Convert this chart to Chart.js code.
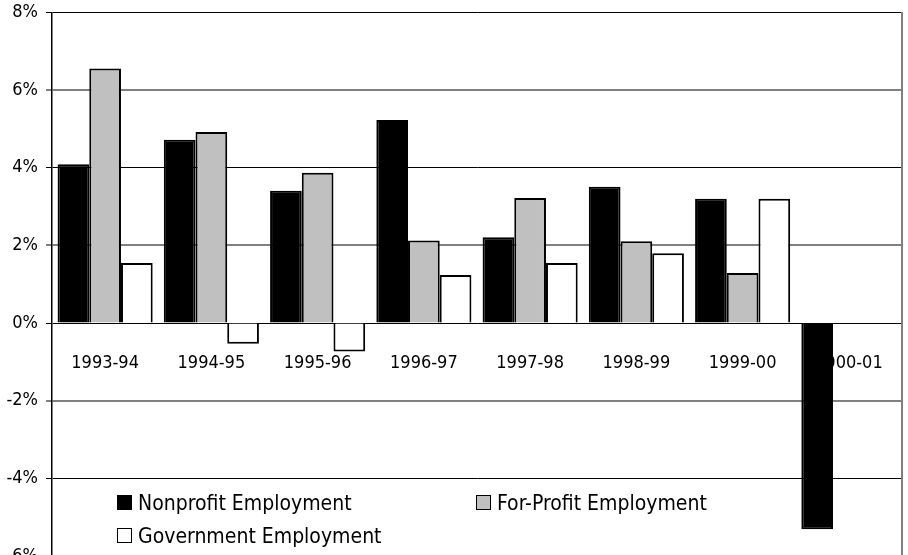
<!DOCTYPE html>
<html>
<head>
    <title>Employment Growth by Sector</title>
    <script src="https://cdn.jsdelivr.net/npm/chart.js"></script>
    <style>
        body { margin: 0; overflow: hidden; background: #fff; }
        #wrap { position: relative; width: 908px; height: 575px; }
        .legend-item { position: absolute; font: 21px 'DejaVu Sans Condensed', 'DejaVu Sans', sans-serif; font-stretch: condensed; color: #000; white-space: nowrap; line-height: 24px; }
        .legend-item span.box { position: absolute; left: 0; top: 4px; width: 13px; height: 13px; border: 1px solid #000; }
        .legend-item span.txt { position: absolute; left: 21px; top: 0; }
    </style>
</head>
<body>
    <div id="wrap">
        <canvas id="growth-chart"></canvas>
        <div id="legend"></div>
    </div>

    <script>
        // chart data
        const years = ['1993-94', '1994-95', '1995-96', '1996-97', '1997-98', '1998-99', '1999-00', '2000-01'];
        const nonprofit = [4.09, 4.72, 3.41, 5.23, 2.21, 3.51, 3.20, -5.31];
        const forProfit = [6.56, 4.92, 3.87, 2.13, 3.22, 2.11, 1.29, null];
        const government = [1.55, -0.53, -0.73, 1.24, 1.55, 1.80, 3.20, null];
        const seriesNames = ['Nonprofit Employment', 'For-Profit Employment', 'Government Employment'];
        const seriesColors = ['#000000', '#c0c0c0', '#ffffff'];

        const fontFamily = "'DejaVu Sans Condensed', 'DejaVu Sans', sans-serif";

        const ctx = document.getElementById('growth-chart').getContext('2d');
        new Chart(ctx, {
            type: 'bar',
            data: {
                labels: years,
                datasets: [nonprofit, forProfit, government].map((vals, i) => ({
                    label: seriesNames[i],
                    data: vals,
                    backgroundColor: seriesColors[i],
                    borderColor: '#000000',
                    borderWidth: 2,
                    categoryPercentage: 0.895,
                    barPercentage: 1.0
                }))
            },
            options: {
                responsive: true,
                maintainAspectRatio: false,
                animation: false,
                layout: { padding: { top: 12.5, right: 6, bottom: 19, left: 0 } },
                plugins: {
                    legend: { display: false },
                    tooltip: { enabled: false }
                },
                scales: {
                    x: {
                        position: { y: 0 },
                        offset: true,
                        afterFit: s => { s.paddingLeft = 0; s.paddingRight = 0; },
                        grid: { display: false, drawTicks: false },
                        border: { display: false },
                        ticks: {
                            padding: 29,
                            color: '#000',
                            autoSkip: false,
                            maxRotation: 0,
                            font: { family: fontFamily, size: 18 }
                        }
                    },
                    y: {
                        min: -6,
                        max: 8,
                        afterFit: s => { s.width = 52; s.paddingTop = 0; s.paddingBottom = 0; },
                        border: { color: '#000', width: 1.5 },
                        grid: {
                            color: c => (c.tick && c.tick.value % 4 === 0) ? '#000000' : '#808080',
                            lineWidth: c => (c.tick && c.tick.value % 4 === 0) ? 1 : 2,
                            tickLength: 6
                        },
                        ticks: {
                            stepSize: 2,
                            padding: 8,
                            color: '#000',
                            font: { family: fontFamily, size: 18 },
                            callback: v => v + '%'
                        }
                    },
                    y2: {
                        position: 'right',
                        min: -6,
                        max: 8,
                        afterFit: s => { s.width = 0; s.paddingTop = 0; s.paddingBottom = 0; },
                        grid: { display: false, drawTicks: false },
                        ticks: { display: false },
                        border: { color: '#808080', width: 2 }
                    }
                }
            }
        });

        // legend placed inside the plot like the original
        const legendPos = [[117, 491], [476, 491], [117, 524]];
        const legend = document.getElementById('legend');
        seriesNames.forEach((name, i) => {
            const item = document.createElement('div');
            item.className = 'legend-item';
            item.style.left = legendPos[i][0] + 'px';
            item.style.top = legendPos[i][1] + 'px';
            item.innerHTML = '<span class="box" style="background:' + seriesColors[i] + '"></span><span class="txt">' + name + '</span>';
            legend.appendChild(item);
        });
    </script>
</body>
</html>
